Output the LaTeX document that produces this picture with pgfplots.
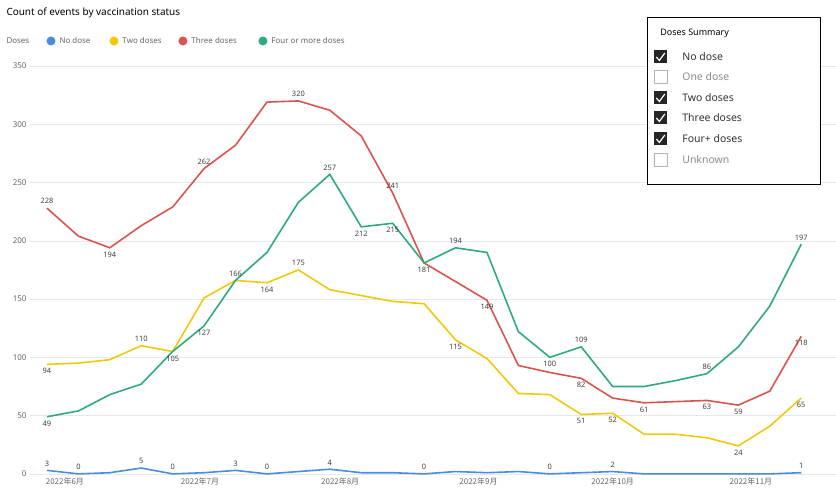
\documentclass[border=0pt]{standalone}
\usepackage{pgfplots}
\pgfplotsset{compat=1.18}
\usepackage{fontspec}
\setmainfont{Noto Sans}
\newfontfamily\cjk{Noto Sans CJK SC}
\definecolor{cb}{HTML}{4A8DDC}
\definecolor{cy}{HTML}{F2C80F}
\definecolor{cr}{HTML}{D9534F}
\definecolor{cg}{HTML}{2EAA7C}
\definecolor{gt}{HTML}{666666}
\begin{document}
\begin{tikzpicture}[x=1bp,y=1bp]
\path (0,0) rectangle (836,504);
\node[anchor=west,font=\fontsize{10}{11}\selectfont] at (3,491) {Count of events by vaccination status};
\node[anchor=west,font=\fontsize{8}{9}\selectfont\bfseries,text=gt] at (3,463) {Doses};
\fill[cb] (51,463) circle (4.5); \node[anchor=west,font=\fontsize{8}{9}\selectfont,text=gt] at (56,463) {No dose};
\fill[cy] (114,463) circle (4.5); \node[anchor=west,font=\fontsize{8}{9}\selectfont,text=gt] at (119,463) {Two doses};
\fill[cr] (183,463) circle (4.5); \node[anchor=west,font=\fontsize{8}{9}\selectfont,text=gt] at (188,463) {Three doses};
\fill[cg] (263,463) circle (4.5); \node[anchor=west,font=\fontsize{8}{9}\selectfont,text=gt] at (268,463) {Four or more doses};
\begin{axis}[at={(30bp,30bp)},anchor=south west,scale only axis,width=806bp,height=408bp,
 xmin=-0.54,xmax=25.1,ymin=0,ymax=350,
 axis line style={draw=none},tick style={draw=none},
 ytick={0,50,...,350},ymajorgrids,grid style={gray!18},
 xtick={0.57,4.87,9.33,13.73,18.0,22.4},
 xticklabels={2022年6月,2022年7月,2022年8月,2022年9月,2022年10月,2022年11月},
 xticklabel style={font=\cjk\fontsize{8}{9}\selectfont,text=gt},
 yticklabel style={font=\fontsize{8}{9}\selectfont,text=gt},
 /pgf/number format/assume math mode=true,
 yticklabel pos=left, clip=false,
 every axis plot/.append style={line width=1.6pt,mark=none},
 nodes near coords style={font=\fontsize{7.5}{8}\selectfont,text=black!75},
]
\addplot[cb] coordinates {(0,3)(1,0)(2,1)(3,5)(4,0)(5,1)(6,3)(7,0)(8,2)(9,4)(10,1)(11,1)(12,0)(13,2)(14,1)(15,2)(16,0)(17,1)(18,2)(19,0)(20,0)(21,0)(22,0)(23,0)(24,1)};
\addplot[cy] coordinates {(0,94)(1,95)(2,98)(3,110)(4,105)(5,151)(6,166)(7,164)(8,175)(9,158)(10,153)(11,148)(12,146)(13,115)(14,99)(15,69)(16,68)(17,51)(18,52)(19,34)(20,34)(21,31)(22,24)(23,41)(24,65)};
\addplot[cr] coordinates {(0,228)(1,204)(2,194)(3,213)(4,229)(5,262)(6,282)(7,319)(8,320)(9,312)(10,290)(11,241)(12,181)(13,165)(14,149)(15,93)(16,87)(17,82)(18,65)(19,61)(20,62)(21,63)(22,59)(23,71)(24,118)};
\addplot[cg] coordinates {(0,49)(1,54)(2,68)(3,77)(4,105)(5,127)(6,166)(7,190)(8,233)(9,257)(10,212)(11,215)(12,181)(13,194)(14,190)(15,122)(16,100)(17,109)(18,75)(19,75)(20,80)(21,86)(22,109)(23,144)(24,197)};
\addplot[draw=none,forget plot,nodes near coords,nodes near coords align={above}] coordinates {(0,228)(5,262)(8,320)(11,241)(13,194)(17,109)(21,86)(24,197)(9,257)(0,3)(1,0)(3,5)(4,0)(6,3)(7,0)(9,4)(12,0)(16,0)(18,2)(24,1)(3,110)(8,175)(6,166)};
\addplot[draw=none,forget plot,nodes near coords,nodes near coords align={below}] coordinates {(2,194)(12,181)(14,149)(17,82)(21,63)(22,59)(24,118)(0,94)(4,105)(7,164)(13,115)(17,51)(18,52)(22,24)(24,65)(0,49)(5,127)(10,212)(11,215)(16,100)(19,61)};
\end{axis}
\draw[black,line width=0.8pt,fill=white] (648,320) rectangle (821,487);
\node[anchor=west,font=\fontsize{9}{10}\selectfont] at (657,471) {Doses Summary};
\foreach \y/\t/\c in {447/No dose/1,427/One dose/0,406/Two doses/1,386/Three doses/1,365/Four+ doses/1,344/Unknown/0}{
 \ifnum\c=1
  \fill[black!85] (654,\y-6.5) rectangle (667,\y+6.5);
  \draw[white,line width=1.2pt] (656.5,\y) -- (659.5,\y-3.5) -- (665,\y+4);
  \node[anchor=west,font=\fontsize{10.5}{12}\selectfont,text=black!80] at (679,\y) {\t};
 \else
  \draw[black!30] (654,\y-6.5) rectangle (667,\y+6.5);
  \node[anchor=west,font=\fontsize{10.5}{12}\selectfont,text=black!45] at (679,\y) {\t};
 \fi}
\end{tikzpicture}
\end{document}
